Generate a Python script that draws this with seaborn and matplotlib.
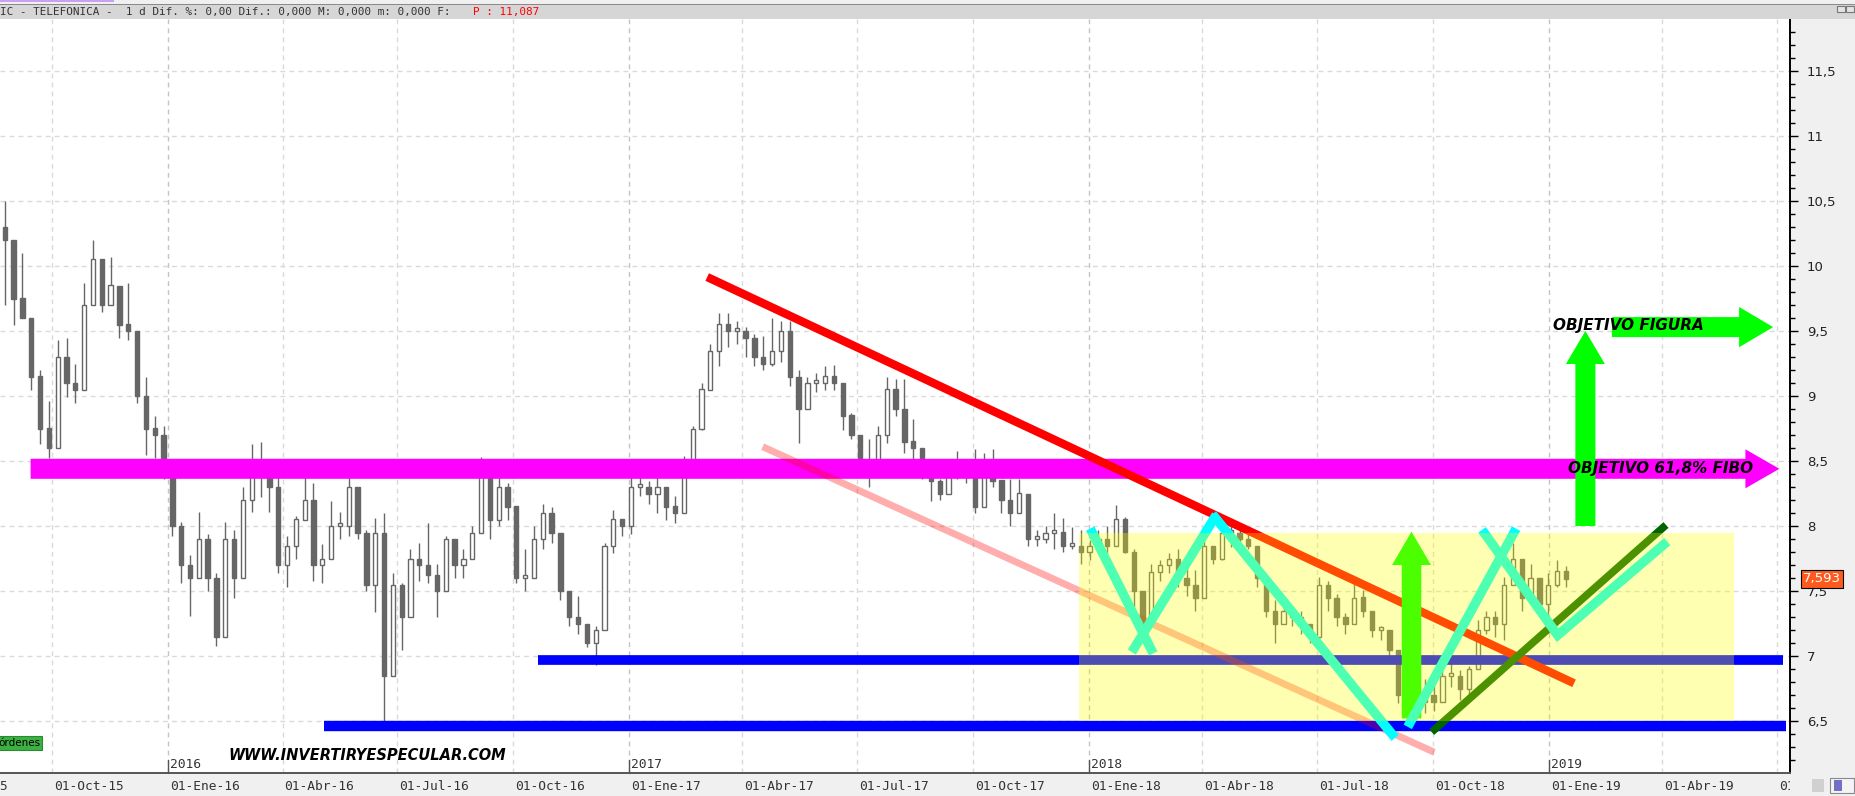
import numpy as np
import pandas as pd
import matplotlib
matplotlib.use("Agg")
import matplotlib.pyplot as plt
import matplotlib.dates as mdates
from matplotlib.patches import FancyArrow, Rectangle
from matplotlib.transforms import Bbox, TransformedBbox
import seaborn as sns

# ── weekly candles (TELEFONICA, 1 d) ────────────────────────────
week_start = "2015-08-21"
high = [10.5, 10.1, 10.1, 9.6, 9.2, 8.96, 9.43, 9.45, 9.25, 9.87,
        10.2, 10.0, 10.07, 9.85, 9.87, 9.43, 9.15, 8.85, 8.77, 8.36,
        8.03, 7.78, 8.11, 7.94, 7.64, 8.03, 7.97, 8.3, 8.63, 8.65,
        8.47, 8.41, 7.92, 8.08, 8.38, 8.33, 7.86, 8.19, 8.11, 8.38,
        8.19, 7.97, 8.06, 8.1, 7.64, 7.56, 7.82, 7.87, 8.02, 7.71,
        7.92, 7.9, 7.82, 8.0, 8.53, 8.33, 8.38, 8.33, 7.94, 7.82,
        8.0, 8.17, 8.15, 7.87, 7.46, 7.46, 7.25, 7.23, 7.87, 8.12,
        8.05, 8.38, 8.38, 8.35, 8.38, 8.25, 8.23, 8.54, 8.77, 9.1,
        9.4, 9.64, 9.64, 9.58, 9.53, 9.48, 9.46, 9.6, 9.58, 9.58,
        9.2, 9.15, 9.18, 9.23, 9.24, 9.05, 8.87, 8.69, 8.67, 8.77,
        9.15, 9.13, 9.13, 8.82, 8.54, 8.38, 8.36, 8.49, 8.58, 8.46,
        8.59, 8.56, 8.59, 8.33, 8.36, 8.36, 8.18, 7.97, 8.0, 8.1,
        8.06, 7.99, 7.97, 7.89, 7.97, 8.0, 8.16, 8.07, 7.82, 7.5,
        7.71, 7.74, 7.79, 7.82, 7.74, 7.66, 7.89, 7.84, 7.99, 8.05,
        7.97, 7.94, 7.74, 7.61, 7.43, 7.43, 7.35, 7.35, 7.25, 7.61,
        7.58, 7.48, 7.33, 7.56, 7.51, 7.35, 7.23, 7.2, 7.0, 6.76,
        6.74, 6.82, 6.79, 6.92, 6.97, 6.89, 6.92, 7.28, 7.35, 7.35,
        7.61, 7.87, 7.64, 7.71, 7.58, 7.64, 7.74, 7.69]
low = [9.7, 9.55, 9.6, 9.05, 8.63, 8.52, 8.63, 8.99, 8.95, 9.4,
       9.7, 9.65, 9.7, 9.45, 9.43, 8.95, 8.55, 8.52, 8.36, 7.92,
       7.56, 7.31, 7.7, 7.5, 7.08, 7.48, 7.45, 7.92, 8.11, 8.22,
       8.11, 7.64, 7.53, 7.75, 8.19, 7.58, 7.56, 7.75, 7.9, 7.92,
       7.9, 7.5, 7.34, 6.5, 7.0, 7.05, 7.53, 7.58, 7.56, 7.3,
       7.71, 7.6, 7.6, 7.76, 8.0, 7.9, 8.0, 8.05, 7.56, 7.5,
       7.66, 7.82, 7.87, 7.43, 7.23, 7.17, 7.07, 6.93, 7.25, 7.79,
       7.92, 7.94, 8.23, 8.17, 8.1, 8.05, 8.02, 8.17, 8.51, 8.74,
       9.1, 9.23, 9.38, 9.4, 9.3, 9.23, 9.2, 9.23, 9.26, 9.08,
       8.64, 9.0, 9.03, 9.05, 9.05, 8.74, 8.67, 8.46, 8.3, 8.56,
       8.64, 8.85, 8.56, 8.51, 8.36, 8.19, 8.2, 8.31, 8.36, 8.33,
       8.1, 8.36, 8.3, 8.1, 8.0, 8.13, 7.85, 7.85, 7.87, 7.82,
       7.8, 7.82, 7.71, 7.74, 7.79, 7.79, 7.94, 7.79, 7.35, 7.1,
       7.43, 7.58, 7.64, 7.53, 7.46, 7.35, 7.64, 7.71, 7.74, 7.84,
       7.84, 7.82, 7.53, 7.3, 7.1, 7.28, 7.23, 7.17, 7.1, 7.1,
       7.35, 7.23, 7.17, 7.38, 7.3, 7.15, 7.12, 7.0, 6.64, 6.51,
       6.51, 6.56, 6.58, 6.74, 6.76, 6.66, 6.66, 7.02, 7.17, 7.15,
       7.12, 7.56, 7.35, 7.48, 7.35, 7.3, 7.53, 7.53]
close = [10.2, 9.75, 9.6, 9.15, 8.75, 8.6, 9.3, 9.1, 9.05, 9.7,
         10.05, 9.7, 9.85, 9.55, 9.5, 9.0, 8.75, 8.7, 8.5, 8.0,
         7.7, 7.6, 7.9, 7.6, 7.15, 7.9, 7.6, 8.2, 8.5, 8.4,
         8.3, 7.7, 7.85, 8.05, 8.2, 7.7, 7.75, 8.0, 8.0, 8.3,
         7.95, 7.55, 7.95, 6.85, 7.55, 7.3, 7.75, 7.7, 7.62, 7.5,
         7.9, 7.7, 7.75, 7.95, 8.4, 8.05, 8.3, 8.15, 7.6, 7.6,
         7.9, 8.1, 7.95, 7.5, 7.3, 7.25, 7.1, 7.2, 7.85, 8.05,
         8.0, 8.3, 8.3, 8.25, 8.3, 8.15, 8.1, 8.5, 8.75, 9.05,
         9.35, 9.55, 9.5, 9.5, 9.45, 9.3, 9.25, 9.35, 9.5, 9.15,
         8.9, 9.1, 9.1, 9.15, 9.1, 8.85, 8.7, 8.5, 8.45, 8.7,
         9.05, 8.9, 8.65, 8.6, 8.45, 8.35, 8.25, 8.45, 8.5, 8.4,
         8.15, 8.5, 8.35, 8.2, 8.1, 8.25, 7.9, 7.9, 7.95, 7.95,
         7.85, 7.85, 7.8, 7.85, 7.9, 7.85, 8.05, 7.8, 7.5, 7.25,
         7.65, 7.7, 7.75, 7.6, 7.55, 7.45, 7.85, 7.75, 7.95, 7.95,
         7.9, 7.85, 7.6, 7.35, 7.25, 7.35, 7.3, 7.25, 7.15, 7.55,
         7.45, 7.3, 7.25, 7.45, 7.35, 7.2, 7.2, 7.05, 6.7, 6.6,
         6.65, 6.7, 6.65, 6.85, 6.85, 6.75, 6.9, 7.2, 7.3, 7.25,
         7.55, 7.75, 7.45, 7.6, 7.4, 7.55, 7.65, 7.593]
first_open = 10.3
last_price = 7.593

# ── drawn annotations (dates, prices) ───────────────────────────
red_trend = (["2017-03-04", "2019-01-21"], [9.915, 6.79])
pink_trend = (["2017-04-17", "2018-10-02"], [8.61, 6.26])
blue_upper = (["2016-10-21", "2019-07-06"], [6.97, 6.97])
blue_lower = (["2016-05-04", "2019-07-08"], [6.46, 6.46])
green_trend = (["2018-09-30", "2019-04-04"], [6.415, 8.008])
cyan_legs = [
    (["2018-01-02", "2018-02-21"], [7.98, 7.02]),
    (["2018-02-04", "2018-04-12"], [7.03, 8.085]),
    (["2018-04-09", "2018-09-01"], [8.09, 6.37]),
    (["2018-09-11", "2018-12-06"], [6.455, 7.98]),
    (["2018-11-09", "2019-01-08", "2019-04-05"], [7.97, 7.16, 7.88]),
]
range_box = (["2017-12-24", "2019-05-28"], [6.5, 7.95])
fibo_arrow = (["2015-09-14", "2019-07-03"], [8.44, 8.44])
target_up = (["2019-01-30", "2019-01-30"], [8.0, 9.5])
target_right = (["2019-02-20", "2019-06-28"], [9.53, 9.53])
breakout_up = (["2018-09-14", "2018-09-14"], [6.52, 7.956])
fibo_label = ("2019-01-16", 8.44, "OBJETIVO 61,8% FIBO")
figura_label = ("2019-01-04", 9.546, "OBJETIVO FIGURA")

meses = {1: "Ene", 4: "Abr", 7: "Jul", 10: "Oct"}


def dn(s):
    return mdates.date2num(pd.Timestamp(s))


def dns(seq):
    return [dn(s) for s in seq]


sns.set_theme(style="white")
plt.rcParams["font.family"] = ["DejaVu Sans"]

W, H = 1855, 796
fig = plt.figure(figsize=(W / 100, H / 100), dpi=100, facecolor="#f0f0f0")
ax = fig.add_axes([0, (H - 773) / H, 1790 / W, (773 - 19) / H])
ax.set_facecolor("white")

x_ref = dn("2015-10-01")
quarters = pd.date_range("2015-07-01", "2019-07-01", freq="QS")
qnums = mdates.date2num(quarters)

# grid
for v in np.arange(6.5, 11.51, 0.5):
    ax.axhline(v, color="#dadada", lw=1, ls=(0, (3.5, 3)), zorder=0)
for q, d in zip(qnums, quarters):
    col = "#c4c4c4" if d.month == 1 else "#dadada"
    ax.axvline(q, color=col, lw=1, ls=(0, (3.5, 3)), zorder=0)

# ── candles ─────────────────────────────────────────────────────
weeks = pd.date_range(week_start, periods=len(close), freq="7D")
xc = mdates.date2num(weeks) + 3.5
opens = [first_open] + close[:-1]
ax.vlines(xc, low, high, color="#666666", lw=1, zorder=2)
for x, o, c in zip(xc, opens, close):
    bot, hgt = min(o, c), max(abs(c - o), 0.02)
    up = c >= o
    ax.bar(x, hgt, bottom=bot, width=3.4, color="white" if up else "#666666",
           edgecolor="#666666", linewidth=1, zorder=2.1)


# ── drawn lines ─────────────────────────────────────────────────
def seg(dates, vals, color, lw, z, alpha=1.0):
    sns.lineplot(x=dns(dates), y=vals, color=color, lw=lw, ax=ax,
                 estimator=None, sort=False, alpha=alpha, zorder=z,
                 solid_capstyle="butt", solid_joinstyle="miter")


# fibonacci objective arrow
fx = dns(fibo_arrow[0])
ax.add_patch(FancyArrow(fx[0], fibo_arrow[1][0], fx[1] - fx[0], 0,
                        width=0.154, head_width=0.30, head_length=27,
                        length_includes_head=True, color="#ff00ff", lw=0,
                        zorder=3))

seg(*blue_upper, "#0000ff", 7, 3.1)
seg(*blue_lower, "#0000ff", 7.5, 3.1)
seg(*red_trend, "#ff0000", 6, 3.2)
seg(*pink_trend, "#ff0000", 5, 3.3, alpha=0.32)

bx = dns(breakout_up[0])
ax.add_patch(FancyArrow(bx[0], breakout_up[1][0], 0,
                        breakout_up[1][1] - breakout_up[1][0],
                        width=15.5, head_width=31, head_length=0.256,
                        length_includes_head=True, color="#00ff00", lw=0,
                        zorder=3.4))

seg(*green_trend, "#006400", 5.5, 3.5)
for dates, vals in cyan_legs:
    seg(dates, vals, "#00ffff", 6.8, 3.6)

# consolidation box
rx = dns(range_box[0])
ax.add_patch(Rectangle((rx[0], range_box[1][0]), rx[1] - rx[0],
                       range_box[1][1] - range_box[1][0],
                       facecolor="#ffff00", alpha=0.3, lw=0, zorder=4))

# pattern target arrows
ux = dns(target_up[0])
ax.add_patch(FancyArrow(ux[0], target_up[1][0], 0,
                        target_up[1][1] - target_up[1][0],
                        width=15.9, head_width=31, head_length=0.254,
                        length_includes_head=True, color="#00ff00", lw=0,
                        zorder=5))
tx = dns(target_right[0])
ax.add_patch(FancyArrow(tx[0], target_right[1][0], tx[1] - tx[0], 0,
                        width=0.154, head_width=0.31, head_length=27,
                        length_includes_head=True, color="#00ff00", lw=0,
                        zorder=5))

for d, v, txt in [fibo_label, figura_label]:
    ax.text(dn(d), v, txt, ha="left", va="center", fontsize=11,
            fontweight="bold", style="italic", color="black", zorder=6)

# ── ticks first, then limits (set_ticks widens the view) ────────
ax.set_xticks(qnums)
ax.set_xticklabels([])
ax.tick_params(axis="x", length=7, width=1, color="#555", direction="out")

ax.yaxis.tick_right()
ax.set_yticks(np.arange(6.5, 11.51, 0.5))
ax.set_yticklabels([f"{v:g}".replace(".", ",") for v in np.arange(6.5, 11.51, 0.5)])
ax.set_yticks(np.arange(6.2, 11.85, 0.1), minor=True)
ax.tick_params(axis="y", which="major", length=6, width=1, color="black",
               direction="out", pad=6, labelsize=9.5, labelcolor="#222")
ax.tick_params(axis="y", which="minor", length=3.5, width=1, color="black",
               direction="out")
ax.tick_params(axis="y", which="both", left=False, right=True)

ax.set_xlim(x_ref - 41.3, x_ref + 1379.4)
ax.set_ylim(6.1, 11.9)
ax.set_xlabel("")
ax.set_ylabel("")

for s in ["left", "top"]:
    ax.spines[s].set_visible(False)
ax.spines["right"].set_color("black")
ax.spines["right"].set_linewidth(1.4)
ax.spines["bottom"].set_color("#555")
ax.spines["bottom"].set_linewidth(1.4)

# date labels in the bottom band, clipped at the price-scale edge
band_clip = TransformedBbox(Bbox([[0, 0], [1790 / W, 1]]), fig.transFigure)
xtr = ax.get_xaxis_transform()
for q, d in zip(qnums, quarters):
    t = ax.text(q + 1.6, -13 / 754, f"01-{meses[d.month]}-{d.strftime('%y')}",
                transform=xtr, ha="left", va="center", fontsize=9.3,
                family="DejaVu Sans Mono", color="#333")
    t.set_clip_box(band_clip)
    t.set_clip_on(True)
    if d.month == 1:
        ax.plot([q, q], [0, 13 / 754], transform=xtr, color="#555", lw=1,
                clip_on=False, zorder=1, scalex=False, scaley=False)
        ax.text(q + 1.6, 9 / 754, str(d.year), transform=xtr, ha="left",
                va="center", fontsize=9.3, family="DejaVu Sans Mono",
                color="#333")

# last price tag
ax.text(1803 / 1790, last_price, f"{last_price:.3f}".replace(".", ","),
        transform=ax.get_yaxis_transform(), ha="left", va="center",
        fontsize=9.5, color="white", clip_on=False, zorder=10,
        bbox=dict(boxstyle="square,pad=0.18", fc="#ff5a1e", ec="black", lw=0.8))

# ── window chrome ───────────────────────────────────────────────
def box(x, y, w, h, fc, ec="none"):
    fig.add_artist(Rectangle((x / W, (H - y - h) / H), w / W, h / H,
                             transform=fig.transFigure, fc=fc, ec=ec, lw=0.8))


box(0, 4, W, 15, "#d6d6d6")
box(0, 4, W, 1, "#8a8a8a")
box(0, 0, 114, 2, "#c8a2f0")
box(1837, 6, 8, 6, "#e4e4e4", "#777")
box(1846, 6, 8, 6, "#e4e4e4", "#777")
box(1812, 779, 12, 13, "#d0d0d0")
box(1830, 778, 24, 15, "#f4f4f4", "#888")
box(1834, 780, 8, 11, "#7070c8")

fig.text(0, (H - 11.5) / H,
         "IC - TELEFONICA -  1 d Dif. %: 0,00 Dif.: 0,000 M: 0,000 m: 0,000 F:",
         ha="left", va="center", fontsize=7.9, family="DejaVu Sans Mono",
         color="#333")
fig.text(473 / W, (H - 11.5) / H, "P : 11,087", ha="left", va="center",
         fontsize=7.9, family="DejaVu Sans Mono", color="red")

fig.text(228 / W, (H - 755) / H, "WWW.INVERTIRYESPECULAR.COM", ha="left",
         va="center", fontsize=10.5, fontweight="heavy", style="italic",
         color="black")
fig.text(-2 / W, (H - 743) / H, "órdenes", ha="left", va="center",
         fontsize=7.5, color="black",
         bbox=dict(boxstyle="square,pad=0.15", fc="#3cb043", ec="#2a8a30", lw=0.8))

fig.savefig("out.png", dpi=100, facecolor=fig.get_facecolor())
